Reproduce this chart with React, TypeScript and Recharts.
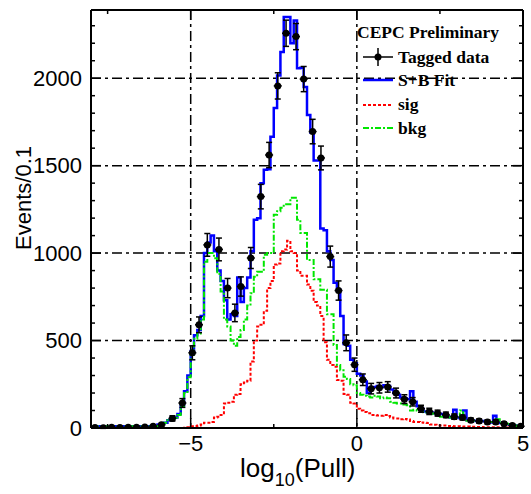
import {
  CartesianGrid,
  ComposedChart,
  ErrorBar,
  Label,
  Legend,
  Line,
  Scatter,
  XAxis,
  YAxis,
} from "recharts";

// bin centres, 0.1 wide, from -8 to 5
const binCenters = Array.from({ length: 130 }, (_, i) => +(-7.95 + 0.1 * i).toFixed(2));

// S+B fit, one row per unit of x
const fitCounts = [
  10, 10, 10, 10, 10, 10, 10, 10, 10, 10,
  10, 10, 10, 10, 10, 10, 10, 10, 12, 12,
  20, 25, 30, 45, 60, 60, 80, 130, 210, 300,
  440, 530, 560, 640, 1000, 1060, 1100, 1010, 900, 840,
  730, 620, 650, 640, 860, 720, 800, 860, 1010, 1190,
  1200, 1400, 1476, 1480, 1665, 1830, 2016, 2150, 2350, 2350,
  2200, 2330, 2057, 2060, 1950, 1790, 1690, 1530, 1530, 1140,
  1130, 1010, 960, 830, 790, 640, 480, 470, 390, 370,
  310, 300, 266, 200, 230, 235, 240, 235, 245, 240,
  220, 200, 190, 175, 170, 165, 210, 150, 125, 110,
  95, 90, 88, 85, 82, 80, 70, 65, 60, 105,
  60, 55, 100, 45, 45, 40, 42, 38, 40, 35,
  32, 70, 30, 28, 25, 22, 18, 15, 12, 10,
];

const sigCounts = [
  0, 0, 0, 0, 0, 0, 0, 0, 0, 0,
  0, 0, 0, 0, 0, 0, 0, 0, 0, 0,
  0, 0, 0, 0, 0, 0, 0, 0, 2, 4,
  10, 12, 15, 20, 30, 30, 35, 60, 65, 75,
  140, 145, 150, 190, 195, 250, 260, 270, 380, 500,
  580, 590, 670, 800, 840, 935, 940, 1010, 1020, 1070,
  1010, 1000, 900, 870, 870, 820, 785, 720, 700, 640,
  490, 390, 360, 350, 275, 270, 195, 190, 145, 140,
  110, 100, 92, 85, 75, 75, 72, 70, 75, 68,
  60, 55, 55, 50, 52, 48, 40, 35, 35, 32,
  30, 28, 20, 18, 15, 15, 14, 12, 12, 10,
  10, 9, 8, 8, 7, 7, 6, 6, 5, 5,
  5, 5, 4, 4, 4, 3, 3, 3, 2, 2,
];

const bkgCounts = [
  10, 10, 10, 10, 10, 10, 10, 10, 10, 10,
  10, 10, 10, 10, 10, 10, 10, 10, 12, 12,
  20, 25, 30, 45, 55, 60, 75, 125, 200, 290,
  420, 510, 540, 620, 950, 1000, 1000, 970, 880, 780,
  620, 580, 500, 470, 520, 560, 620, 700, 770, 865,
  893, 893, 990, 1000, 1000, 1220, 1240, 1260, 1280, 1280,
  1316, 1316, 1190, 1115, 1115, 960, 960, 850, 850, 790,
  790, 650, 650, 475, 360, 330, 293, 280, 250, 245,
  200, 190, 185, 180, 175, 185, 180, 170, 175, 170,
  150, 145, 140, 140, 135, 130, 100, 105, 100, 95,
  90, 88, 85, 80, 70, 65, 65, 60, 62, 60,
  58, 100, 55, 42, 40, 42, 40, 38, 40, 35,
  35, 32, 50, 30, 28, 25, 20, 15, 12, 10,
];

// tagged data points
const dataX = [
  -7.88, -7.63, -7.38, -7.13, -6.88, -6.63, -6.38, -6.13, -5.88, -5.55,
  -5.25, -4.95, -4.75, -4.5, -4.15, -3.89, -3.67, -3.49, -3.19, -2.89,
  -2.64, -2.38, -2.13, -1.83, -1.6, -1.33, -1.08, -0.8, -0.55, -0.32,
  -0.07, 0.18, 0.43, 0.68, 0.93, 1.18, 1.43, 1.68, 1.93, 2.18,
  2.43, 2.68, 2.93, 3.18, 3.43, 3.68, 3.93, 4.18, 4.43, 4.68, 4.93,
];
const dataY = [
  3, 2, 4, 3, 5, 4, 6, 10, 18, 55,
  143, 430, 590, 1047, 1021, 800, 658, 809, 972, 1323,
  1561, 1956, 2257, 2238, 1995, 1695, 1544, 980, 786, 487,
  362, 276, 225, 230, 235, 200, 165, 150, 110, 95,
  85, 75, 65, 60, 45, 40, 35, 35, 25, 15, 10,
];
const dataErr = [
  4, 4, 4, 4, 5, 5, 5, 6, 8, 15,
  25, 40, 45, 65, 65, 55, 50, 55, 60, 70,
  72, 75, 75, 75, 72, 70, 68, 60, 55, 45,
  38, 33, 30, 30, 30, 28, 25, 24, 20, 18,
  17, 16, 15, 14, 12, 12, 11, 11, 10, 8, 6,
];

const xMajor = [-5, 0, 5];
const xMinor = [-7.5, -2.5, 2.5];
const yMajor = [0, 500, 1000, 1500, 2000];
const yMinor = [100, 200, 300, 400, 600, 700, 800, 900, 1100, 1200, 1300, 1400, 1600, 1700, 1800, 1900, 2100, 2200, 2300];

const histData = binCenters.map((x, i) => ({
  x,
  fit: fitCounts[i],
  sig: sigCounts[i],
  bkg: bkgCounts[i],
}));

const pointData = dataX.map((x, i) => ({ x, y: dataY[i], ey: dataErr[i], ex: 0.12 }));

const sans = '"Liberation Sans", Arial, sans-serif';
const serif = '"Liberation Serif", "Times New Roman", serif';
const X_DOMAIN: [number, number] = [-8, 5];
const Y_DOMAIN: [number, number] = [0, 2390];

const frame = { stroke: "#000", strokeWidth: 2 };
const tickStroke = { stroke: "#000", strokeWidth: 1.5 };
const noTick = () => <g />;

const XTitle = () => (
  <text x={240} y={477} fontFamily={sans} fontSize={26} fill="#000">
    log
    <tspan fontSize={18} dy={9}>10</tspan>
    <tspan dy={-9}>(Pull)</tspan>
  </text>
);

const YTitle = () => (
  <text
    x={31}
    y={198}
    transform="rotate(-90 31 198)"
    textAnchor="middle"
    fontFamily={sans}
    fontSize={22}
    fill="#000"
  >
    Events/0.1
  </text>
);

const LegendBox = () => (
  <svg width={175} height={130} style={{ display: "block" }}>
    <text x={7} y={24} fontFamily={serif} fontWeight="bold" fontSize={17.5} fill="#000">
      CEPC Preliminary
    </text>
    <line x1={13} x2={43} y1={43} y2={43} stroke="#000" strokeWidth={1.5} />
    <line x1={28} x2={28} y1={34} y2={52} stroke="#000" strokeWidth={1.5} />
    <circle cx={28} cy={43} r={3.5} fill="#000" />
    <text x={48} y={49} fontFamily={serif} fontWeight="bold" fontSize={17.5} fill="#000">
      Tagged data
    </text>
    <line x1={13} x2={43} y1={66} y2={66} stroke="#0000ff" strokeWidth={2.5} />
    <text x={48} y={72} fontFamily={serif} fontWeight="bold" fontSize={17.5} fill="#000">
      S+B Fit
    </text>
    <line x1={13} x2={43} y1={91} y2={91} stroke="#ff0000" strokeWidth={2} strokeDasharray="3 2" />
    <text x={48} y={96} fontFamily={serif} fontWeight="bold" fontSize={17.5} fill="#000">
      sig
    </text>
    <line x1={13} x2={43} y1={114} y2={114} stroke="#00e600" strokeWidth={2} strokeDasharray="6 2 2 2" />
    <text x={48} y={120} fontFamily={serif} fontWeight="bold" fontSize={17.5} fill="#000">
      bkg
    </text>
  </svg>
);

export default function App() {
  return (
    <div style={{ position: "absolute", left: 0, top: 0, width: 531, height: 494, background: "#fff" }}>
      <ComposedChart
        width={531}
        height={494}
        data={histData}
        margin={{ top: 8, right: 6, bottom: 64, left: 89 }}
      >
        <CartesianGrid
          stroke="#000"
          strokeWidth={1.5}
          strokeDasharray="10 4 3 4"
        />

        <XAxis
          dataKey="x"
          type="number"
          domain={X_DOMAIN}
          allowDataOverflow
          ticks={xMajor}
          interval={0}
          height={1}
          tickSize={-10}
          tickMargin={17}
          axisLine={frame}
          tickLine={tickStroke}
          tick={{ fill: "#000", fontSize: 22, fontFamily: sans }}
          tickFormatter={(v: number) => (v < 0 ? `\u2212${Math.abs(v)}` : `${v}`)}
        >
          <Label content={XTitle} />
        </XAxis>
        <XAxis
          xAxisId="xm"
          dataKey="x"
          type="number"
          domain={X_DOMAIN}
          allowDataOverflow
          ticks={xMinor}
          interval={0}
          height={1}
          tickSize={-5}
          axisLine={false}
          tickLine={tickStroke}
          tick={noTick}
        />
        <XAxis
          xAxisId="xt"
          orientation="top"
          dataKey="x"
          type="number"
          domain={X_DOMAIN}
          allowDataOverflow
          ticks={xMajor}
          interval={0}
          height={1}
          tickSize={-10}
          axisLine={frame}
          tickLine={tickStroke}
          tick={noTick}
        />
        <XAxis
          xAxisId="xtm"
          orientation="top"
          dataKey="x"
          type="number"
          domain={X_DOMAIN}
          allowDataOverflow
          ticks={xMinor}
          interval={0}
          height={1}
          tickSize={-5}
          axisLine={false}
          tickLine={tickStroke}
          tick={noTick}
        />

        <YAxis
          type="number"
          domain={Y_DOMAIN}
          allowDataOverflow
          ticks={yMajor}
          interval={0}
          width={1}
          tickSize={-10}
          tickMargin={19}
          axisLine={frame}
          tickLine={tickStroke}
          tick={{ fill: "#000", fontSize: 22, fontFamily: sans }}
        >
          <Label content={YTitle} />
        </YAxis>
        <YAxis
          yAxisId="ym"
          type="number"
          domain={Y_DOMAIN}
          allowDataOverflow
          ticks={yMinor}
          interval={0}
          width={1}
          tickSize={-5}
          axisLine={false}
          tickLine={tickStroke}
          tick={noTick}
        />
        <YAxis
          yAxisId="yr"
          orientation="right"
          type="number"
          domain={Y_DOMAIN}
          allowDataOverflow
          ticks={yMajor}
          interval={0}
          width={1}
          tickSize={-10}
          axisLine={frame}
          tickLine={tickStroke}
          tick={noTick}
        />
        <YAxis
          yAxisId="yrm"
          orientation="right"
          type="number"
          domain={Y_DOMAIN}
          allowDataOverflow
          ticks={yMinor}
          interval={0}
          width={1}
          tickSize={-5}
          axisLine={false}
          tickLine={tickStroke}
          tick={noTick}
        />

        <Legend
          layout="horizontal"
          align="center"
          verticalAlign="middle"
          wrapperStyle={{ left: 350, top: 14, width: 175, height: 130 }}
          content={LegendBox}
        />

        <Line
          type="step"
          dataKey="fit"
          stroke="#0000ff"
          strokeWidth={2.5}
          dot={false}
          isAnimationActive={false}
        />
        <Line
          type="step"
          dataKey="sig"
          stroke="#ff0000"
          strokeWidth={2}
          strokeDasharray="3 2"
          dot={false}
          isAnimationActive={false}
        />
        <Line
          type="step"
          dataKey="bkg"
          stroke="#00e600"
          strokeWidth={2}
          strokeDasharray="6 2 2 2"
          dot={false}
          isAnimationActive={false}
        />
        <Scatter
          data={pointData}
          dataKey="y"
          fill="#000"
          isAnimationActive={false}
          shape={(p: any) => <circle cx={p.cx} cy={p.cy} r={3.5} fill="#000" />}
        >
          <ErrorBar dataKey="ey" direction="y" width={3} stroke="#000" strokeWidth={1.5} />
          <ErrorBar dataKey="ex" direction="x" width={0} stroke="#000" strokeWidth={1.5} />
        </Scatter>
      </ComposedChart>
    </div>
  );
}
